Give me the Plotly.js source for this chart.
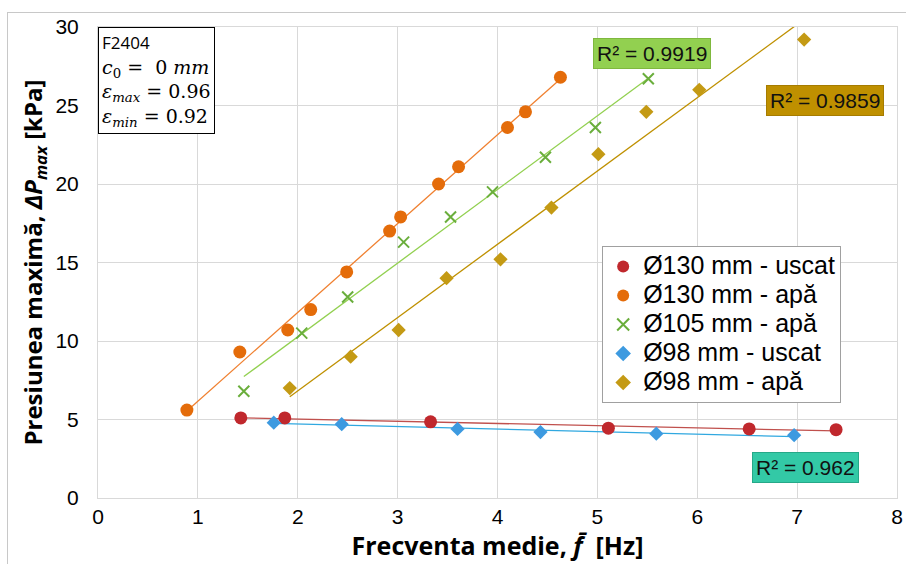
<!DOCTYPE html>
<html><head><meta charset="utf-8">
<script src="https://cdn.plot.ly/plotly-3.0.1.min.js"></script>
<style>html,body{margin:0;padding:0;background:#fff;overflow:hidden}
#frame{position:absolute;left:7px;top:12px;width:920px;height:600px;border:1px solid #c8c8c8;pointer-events:none}
</style></head>
<body><div id="chart" style="width:906px;height:564px"></div><div id="frame"></div>
<script>
// Data
const names = ['Ø130 mm - uscat','Ø130 mm - apă','Ø105 mm - apă','Ø98 mm - uscat','Ø98 mm - apă'];
const x130u = [1.43,1.87,3.33,5.11,6.52,7.39];
const y130u = [5.1,5.1,4.85,4.45,4.4,4.35];
const x130a = [0.89,1.42,1.90,2.13,2.49,2.92,3.03,3.41,3.61,4.10,4.28,4.63];
const y130a = [5.6,9.3,10.7,12.0,14.4,17.0,17.9,20.0,21.1,23.6,24.6,26.8];
const x105a = [1.46,2.04,2.50,3.06,3.53,3.95,4.48,4.98,5.51];
const y105a = [6.8,10.5,12.8,16.3,17.9,19.5,21.7,23.6,26.7];
const x98u = [1.76,2.44,3.60,4.43,5.59,6.97];
const y98u = [4.8,4.7,4.4,4.2,4.1,4.0];
const x98a = [1.92,2.53,3.01,3.49,4.03,4.54,5.01,5.49,6.02,7.07];
const y98a = [7.0,9.0,10.7,14.0,15.2,18.5,21.9,24.6,26.0,29.2];
const r2Labels = ['R² = 0.9919','R² = 0.9859','R² = 0.962'];

function fit(xs, ys){
  const n=xs.length; let sx=0,sy=0,sxx=0,sxy=0;
  for(let i=0;i<n;i++){sx+=xs[i];sy+=ys[i];sxx+=xs[i]*xs[i];sxy+=xs[i]*ys[i];}
  const b=(n*sxy-sx*sy)/(n*sxx-sx*sx); const a=(sy-b*sx)/n;
  const x0=Math.min(...xs), x1=Math.max(...xs);
  return {x:[x0,x1], y:[a+b*x0, a+b*x1]};
}
function trend(xs,ys,color){
  const f=fit(xs,ys);
  return {x:f.x,y:f.y,mode:'lines',line:{color:color,width:1.3},showlegend:false,hoverinfo:'skip'};
}
function lg(s){ return '<span style="font-size:25px">'+s+'</span>'; }
const traces = [
  trend(x130u,y130u,'#C0504D'),
  trend(x130a,y130a,'#F08030'),
  trend(x105a,y105a,'#92D050'),
  trend(x98u,y98u,'#30A8E0'),
  trend(x98a,y98a,'#BF9000'),
  {x:x130u,y:y130u,name:lg(names[0]),mode:'markers',marker:{symbol:'circle',size:13,color:'#C0282D'}},
  {x:x130a,y:y130a,name:lg(names[1]),mode:'markers',marker:{symbol:'circle',size:13,color:'#E46C0A'}},
  {x:x105a,y:y105a,name:lg(names[2]),mode:'markers',marker:{symbol:'x-thin',size:11,line:{color:'#6AAE3C',width:2}}},
  {x:x98u,y:y98u,name:lg(names[3]),mode:'markers',marker:{symbol:'diamond',size:11,color:'#3D9AE0'}},
  {x:x98a,y:y98a,name:lg(names[4]),mode:'markers',marker:{symbol:'diamond',size:11,color:'#C49A14'}}
];
const tickFont={family:'Liberation Sans, Arial',size:21,color:'#000'};
const rFont={family:'Liberation Sans, Arial',size:21,color:'#111'};
const layout = {
  width:906,height:564,
  margin:{l:98,r:9,t:27,b:66},
  paper_bgcolor:'#fff',plot_bgcolor:'#fff',
  showlegend:true,
  legend:{x:0.631,y:0.535,xanchor:'left',yanchor:'top',bgcolor:'#fff',bordercolor:'#a0a0a0',borderwidth:1,
    font:{family:'Liberation Sans, Arial',size:20,color:'#000'},tracegroupgap:0,itemsizing:'constant'},
  xaxis:{range:[0,8],dtick:1,showgrid:true,gridcolor:'#d9d9d9',zeroline:false,showline:true,linecolor:'#d9d9d9',
    ticks:'',tickfont:tickFont,mirror:true,
    title:{text:'Frecventa medie, <i>f̄</i>  [Hz]',font:{family:'Open Sans, Noto Sans',size:25,color:'#000',weight:'bold'},standoff:0}},
  yaxis:{range:[0,30],dtick:5,showgrid:true,gridcolor:'#d9d9d9',zeroline:false,showline:true,linecolor:'#d9d9d9',
    ticks:'',tickfont:tickFont,mirror:true,ticklabelstandoff:14,
    title:{text:'Presiunea maximă, <i>ΔP<sub>max</sub></i> [kPa]',font:{family:'Open Sans, Noto Sans',size:24,color:'#000',weight:'bold'},standoff:6}},
  annotations:[
    {xref:'paper',yref:'paper',x:0,y:1,xanchor:'left',yanchor:'top',align:'left',showarrow:false,
     bgcolor:'#fff',bordercolor:'#000',borderwidth:1,borderpad:3,
     font:{family:'DejaVu Serif, Liberation Serif',size:19,color:'#000'},
     text:'<span style="font-family:Open Sans, Liberation Sans;font-size:17px">F2404</span><br><i>c</i><sub>0</sub> =  0 <i>mm</i><br><i>ε<sub>max</sub></i> = 0.96<br><i>ε<sub>min</sub></i> = 0.92'},
    {xref:'paper',yref:'paper',x:0.619,y:0.977,xanchor:'left',yanchor:'top',showarrow:false,
     bgcolor:'#92D050',bordercolor:'#7FB83E',borderwidth:1,borderpad:3,font:rFont,text:r2Labels[0]},
    {xref:'paper',yref:'paper',x:0.836,y:0.877,xanchor:'left',yanchor:'top',showarrow:false,
     bgcolor:'#BF9000',bordercolor:'#A67C00',borderwidth:1,borderpad:3,font:rFont,text:r2Labels[1]},
    {xref:'paper',yref:'paper',x:0.819,y:0.097,xanchor:'left',yanchor:'top',showarrow:false,
     bgcolor:'#33C9A6',bordercolor:'#26A888',borderwidth:1,borderpad:3,font:rFont,text:r2Labels[2]}
  ]
};
Plotly.newPlot('chart',traces,layout,{displayModeBar:false,staticPlot:true});
</script></body></html>
